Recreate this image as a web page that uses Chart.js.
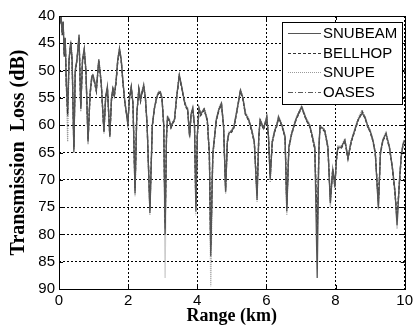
<!DOCTYPE html>
<html>
<head>
<meta charset="utf-8">
<script src="https://cdn.jsdelivr.net/npm/chart.js@4/dist/chart.umd.min.js"></script>
<style>
	html, body { margin: 0; padding: 0; background: #fff; }
	canvas { display: block; }
</style>
</head>
<body>
<canvas id="tl" width="416" height="327"></canvas>
<script>
// range (km) shared by every model
var range = [
	0, 0.03, 0.06, 0.09, 0.12, 0.15, 0.18, 0.21, 0.25, 0.29,
	0.34, 0.38, 0.43, 0.47, 0.52, 0.58, 0.63, 0.68, 0.73, 0.78,
	0.84, 0.90, 0.95, 0.98, 1.03, 1.08, 1.15, 1.22, 1.30, 1.35,
	1.40, 1.47, 1.52, 1.56, 1.60, 1.65, 1.70, 1.75, 1.80, 1.85,
	1.90, 1.99, 2.04, 2.09, 2.14, 2.20, 2.25, 2.31, 2.36, 2.40,
	2.45, 2.50, 2.55, 2.63, 2.70, 2.76, 2.82, 2.88, 2.93, 2.98,
	3.03, 3.07, 3.11, 3.14, 3.19, 3.24, 3.29, 3.34, 3.40, 3.48,
	3.55, 3.62, 3.67, 3.72, 3.78, 3.82, 3.87, 3.92, 3.96, 4.00,
	4.05, 4.10, 4.20, 4.29, 4.35, 4.39, 4.45, 4.55, 4.63, 4.70,
	4.76, 4.82, 4.87, 4.91, 5.00, 5.06, 5.15, 5.25, 5.32, 5.39,
	5.49, 5.58, 5.65, 5.73, 5.78, 5.82, 5.92, 6.01, 6.06, 6.11,
	6.17, 6.24, 6.30, 6.35, 6.45, 6.54, 6.59, 6.65, 6.73, 6.85,
	6.93, 7.02, 7.10, 7.16, 7.25, 7.31, 7.40, 7.47, 7.52, 7.55,
	7.62, 7.69, 7.78, 7.85, 7.92, 7.98, 8.03, 8.07, 8.17, 8.27,
	8.36, 8.45, 8.55, 8.65, 8.77, 8.85, 8.94, 9.00, 9.08, 9.15,
	9.24, 9.30, 9.37, 9.46, 9.56, 9.65, 9.72, 9.78, 9.85, 9.90,
	9.95, 10.0
];

// transmission loss (dB)
var snubeam = [
	40, 41, 40, 43, 41, 47, 44, 52, 57, 48,
	44.7, 48, 65, 50, 48, 43.5, 57, 48, 46, 50,
	63, 54, 51, 50.8, 52, 53.6, 48, 52, 61.2, 54.8,
	53, 62.1, 55, 53.3, 54.5, 52, 48, 46, 48, 52,
	55.4, 59.7, 55, 53, 56, 72.5, 58, 53.3, 55.4, 54,
	52.7, 55, 60, 76.1, 60, 56.9, 55, 54, 53.9, 55,
	60, 80, 62, 58.5, 59, 60.3, 59.5, 59, 55, 50.8,
	53, 55.4, 56.5, 57, 62.1, 58, 56.9, 60, 75.8, 62,
	56.9, 58, 57, 59, 65, 84, 65, 59, 57, 56,
	60, 72.2, 63, 61.5, 61, 60.3, 57.2, 53.6, 55, 57.8,
	59, 61, 63, 73.7, 62, 59, 60.6, 58.5, 62, 70,
	63, 61, 60, 58.5, 60, 62.1, 75.8, 64, 61.5, 59,
	57.8, 56.6, 58, 59, 60, 61.5, 64, 88, 64, 60.3,
	60.5, 61, 64, 74.3, 68, 71.3, 66, 64, 64, 62.7,
	66, 63, 61, 59, 57.8, 58.5, 60.3, 61, 62.7, 65,
	75.2, 65, 62.7, 61.5, 64, 68, 72, 78.3, 70, 65.8,
	63.5, 62.7
];

var bellhop = [
	40, 41.5, 40, 43.5, 41, 47.5, 44, 52.5, 58, 48.5,
	45, 48.5, 64, 50.5, 48, 44, 56.5, 48.5, 46.3, 50.5,
	62.5, 54.5, 51.3, 51, 52.3, 53.8, 48.3, 52.3, 61, 55,
	53.2, 61.8, 55.2, 53.5, 54.8, 52.3, 48.3, 46.3, 48.3, 52.3,
	55.6, 59.5, 55.2, 53.2, 56.2, 71.5, 58.2, 53.5, 55.6, 54.2,
	53, 55.2, 60.2, 75, 60.2, 57, 55.2, 54.2, 54.1, 55.2,
	60.2, 78, 62.2, 58.7, 59.2, 60.5, 59.7, 59.2, 55.2, 51,
	53.2, 55.6, 56.7, 57.2, 61.8, 58.2, 57.1, 60.2, 74.5, 62.2,
	57.1, 58.2, 57.2, 59.2, 65.5, 82, 65.5, 59.2, 57.2, 56.2,
	60.2, 71.5, 63.2, 61.7, 61.2, 60.5, 57.4, 53.8, 55.2, 58,
	59.2, 61.2, 63.2, 72.5, 62.2, 59.2, 60.8, 58.7, 62.2, 69,
	63.2, 61.2, 60.2, 58.7, 60.2, 62.3, 74.5, 64.2, 61.7, 59.2,
	58, 56.8, 58.2, 59.2, 60.2, 61.7, 64.5, 80, 64.5, 60.5,
	60.7, 61.2, 64.2, 73.5, 68.2, 70.5, 66.2, 64.2, 64.2, 62.9,
	66.2, 63.2, 61.2, 59.2, 57.5, 58.7, 60.5, 61.2, 62.9, 65.2,
	74, 65.2, 62.9, 61.7, 64.2, 68.2, 72.5, 77, 70.5, 66,
	63.7, 62.9
];

var snupe = [
	40, 40.5, 40, 42.5, 41, 46.5, 44, 51.5, 63, 47.5,
	44.5, 47.5, 64.5, 49.5, 47.8, 43.3, 57.5, 47.8, 45.8, 49.8,
	63.5, 53.8, 50.8, 50.6, 51.8, 53.4, 47.8, 51.8, 61.5, 54.6,
	52.8, 62.4, 54.8, 53.1, 54.3, 51.8, 47.8, 45.8, 47.8, 51.8,
	55.2, 60, 54.8, 52.8, 55.8, 73, 57.8, 53.1, 55.2, 53.8,
	52.5, 54.8, 59.8, 76.5, 59.8, 56.7, 54.8, 53.8, 53.7, 54.8,
	59.8, 88, 61.8, 58.3, 58.8, 60.1, 59.3, 58.8, 54.8, 50.6,
	52.8, 55.2, 56.3, 56.8, 62.4, 57.8, 56.7, 59.8, 76.5, 61.8,
	56.7, 57.8, 56.8, 58.8, 66, 89.5, 66, 58.8, 56.8, 55.8,
	59.8, 72.5, 62.8, 61.3, 60.8, 60.1, 57, 53.4, 54.8, 57.6,
	58.8, 60.8, 62.8, 74, 61.8, 58.8, 60.4, 58.3, 61.8, 70.5,
	62.8, 60.8, 59.8, 58.3, 59.8, 61.9, 76.5, 63.8, 61.3, 58.8,
	57.6, 56.4, 57.8, 58.8, 59.8, 61.3, 63.8, 82, 63.8, 60.1,
	60.3, 60.8, 63.8, 75, 67.8, 71.8, 65.8, 63.8, 63.8, 62.5,
	65.8, 62.8, 60.8, 58.8, 57.2, 58.3, 60.1, 60.8, 62.5, 64.8,
	75.5, 64.8, 62.5, 61.3, 63.8, 67.8, 72.2, 79, 70.2, 65.6,
	63.3, 62.5
];

var oases = [
	40, 41, 40, 43, 41.5, 47, 44.5, 52, 58.5, 48,
	45, 48, 64.5, 50, 48.2, 43.8, 57, 48.2, 46.2, 50.2,
	62.8, 54.2, 51.2, 51, 52.2, 53.7, 48.2, 52.2, 61.3, 54.9,
	53.1, 62, 55.1, 53.4, 54.6, 52.1, 48.1, 46.1, 48.1, 52.1,
	55.5, 59.6, 55.1, 53.1, 56.1, 72, 58.1, 53.4, 55.5, 54.1,
	52.8, 55.1, 60.1, 75.5, 60.1, 57, 55.1, 54.1, 54, 55.1,
	60.1, 79, 62.1, 58.6, 59.1, 60.4, 59.6, 59.1, 55.1, 50.9,
	53.1, 55.5, 56.6, 57.1, 62, 58.1, 57, 60.1, 75, 62.1,
	57, 58.1, 57.1, 59.1, 65.2, 83, 65.2, 59.1, 57.1, 56.1,
	60.1, 72, 63.1, 61.6, 61.1, 60.4, 57.3, 53.7, 55.1, 57.9,
	59.1, 61.1, 63.1, 73, 62.1, 59.1, 60.7, 58.6, 62.1, 69.5,
	63.1, 61.1, 60.1, 58.6, 60.1, 62.2, 75, 64.1, 61.6, 59.1,
	57.9, 56.7, 58.1, 59.1, 60.1, 61.6, 64.2, 78, 64.2, 60.4,
	60.6, 61.1, 64.1, 74, 68.1, 71, 66.1, 64.1, 64.1, 62.8,
	66.1, 63.1, 61.1, 59.1, 57.7, 58.6, 60.4, 61.1, 62.8, 65.1,
	74.5, 65.1, 62.8, 61.6, 64.1, 68.1, 72.2, 77.5, 70.2, 65.9,
	63.6, 62.8
];

var modelNames = ['SNUBEAM', 'BELLHOP', 'SNUPE', 'OASES'];
var xTicks = [0, 2, 4, 6, 8, 10];
var yTicks = [40, 45, 50, 55, 60, 65, 70, 75, 80, 85, 90];

function toPoints(values) {
	return values.map(function (v, i) { return { x: range[i], y: v }; });
}

function series(label, values, color, dash) {
	return {
		label: label,
		data: toPoints(values),
		borderColor: color,
		backgroundColor: color,
		borderWidth: 1.3,
		borderDash: dash,
		pointRadius: 0,
		tension: 0,
		fill: false
	};
}

// frame with inward tick marks, like the old matlab axes
var frame = {
	id: 'frame',
	afterDatasetsDraw: function (chart) {
		var a = chart.chartArea, ctx = chart.ctx;
		var xs = chart.scales.x, ys = chart.scales.y;
		ctx.save();
		ctx.strokeStyle = '#000';
		ctx.lineWidth = 1;
		ctx.strokeRect(Math.round(a.left) + 0.5, Math.round(a.top) + 0.5,
			Math.round(a.right - a.left), Math.round(a.bottom - a.top));
		ctx.beginPath();
		xTicks.forEach(function (t) {
			var px = Math.round(xs.getPixelForValue(t)) + 0.5;
			ctx.moveTo(px, a.bottom); ctx.lineTo(px, a.bottom - 4);
			ctx.moveTo(px, a.top); ctx.lineTo(px, a.top + 4);
		});
		yTicks.forEach(function (t) {
			var py = Math.round(ys.getPixelForValue(t)) + 0.5;
			ctx.moveTo(a.left, py); ctx.lineTo(a.left + 4, py);
			ctx.moveTo(a.right, py); ctx.lineTo(a.right - 4, py);
		});
		ctx.stroke();
		ctx.restore();
	}
};

// boxed legend in the upper right corner
var boxLegend = {
	id: 'boxLegend',
	afterDraw: function (chart) {
		var ctx = chart.ctx;
		var left = 282, top = 22, w = 120, h = 82;
		ctx.save();
		ctx.fillStyle = '#fff';
		ctx.fillRect(left, top, w, h);
		ctx.strokeStyle = '#000';
		ctx.lineWidth = 1;
		ctx.strokeRect(left + 0.5, top + 0.5, w, h);
		ctx.font = '15px "Liberation Sans", Arial, sans-serif';
		ctx.textBaseline = 'middle';
		ctx.fillStyle = '#000';
		chart.data.datasets.forEach(function (ds, i) {
			var y = Math.round(top + 11 + i * 19.7) + 0.5;
			ctx.strokeStyle = ds.borderColor;
			ctx.setLineDash(ds.borderDash || []);
			ctx.beginPath();
			ctx.moveTo(288, y);
			ctx.lineTo(321, y);
			ctx.stroke();
			ctx.setLineDash([]);
			ctx.fillText(ds.label, 323, y);
		});
		ctx.restore();
	}
};

var tickFont = { family: '"Liberation Sans", Arial, sans-serif', size: 15 };
var titleFont = { family: '"Liberation Serif", "Times New Roman", serif', size: 18, weight: 'bold' };
var yTitleFont = { family: '"Liberation Serif", "Times New Roman", serif', size: 20, weight: 'bold' };

new Chart(document.getElementById('tl'), {
	type: 'line',
	data: {
		datasets: [
			series(modelNames[0], snubeam, '#555555', []),
			series(modelNames[1], bellhop, '#333333', [3, 2]),
			series(modelNames[2], snupe, '#9a9a9a', [1, 1]),
			series(modelNames[3], oases, '#5a5a5a', [5, 2, 1, 2])
		]
	},
	options: {
		responsive: false,
		animation: false,
		devicePixelRatio: 1,
		layout: { padding: { top: 16, right: 9, left: 0, bottom: 0 } },
		plugins: {
			legend: { display: false },
			tooltip: { enabled: false }
		},
		scales: {
			x: {
				type: 'linear',
				min: 0,
				max: 10,
				afterFit: function (scale) { scale.height = 38; },
				afterBuildTicks: function (scale) {
					scale.ticks = xTicks.map(function (v) { return { value: v }; });
				},
				ticks: { font: tickFont, color: '#000', padding: 3, maxRotation: 0 },
				grid: { color: '#000', lineWidth: 1, drawTicks: false },
				border: { display: false, dash: [2, 2] },
				title: { display: true, text: 'Range (km)', font: titleFont, color: '#000', padding: { top: 0, bottom: 0 } }
			},
			y: {
				type: 'linear',
				reverse: true,
				min: 40,
				max: 90,
				afterFit: function (scale) { scale.width = 59; },
				afterBuildTicks: function (scale) {
					scale.ticks = yTicks.map(function (v) { return { value: v }; });
				},
				ticks: { font: tickFont, color: '#000', padding: 4 },
				grid: { color: '#000', lineWidth: 1, drawTicks: false },
				border: { display: false, dash: [2, 2] },
				title: { display: true, text: 'Transmission  Loss (dB)', font: yTitleFont, color: '#000', padding: { top: 7, bottom: 0 } }
			}
		}
	},
	plugins: [frame, boxLegend]
});
</script>
</body>
</html>
